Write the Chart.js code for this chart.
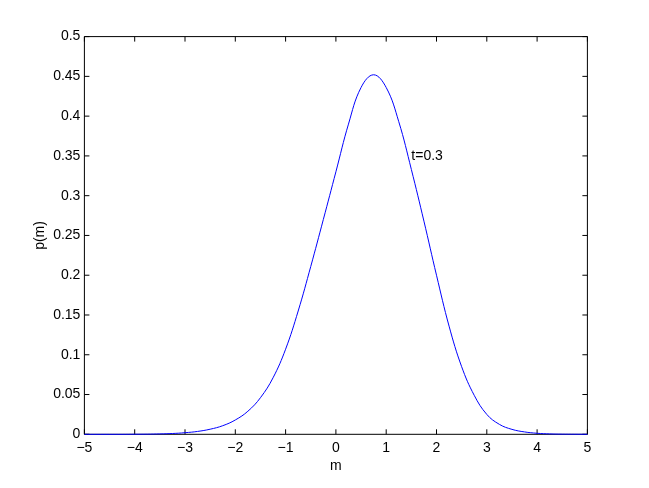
<!DOCTYPE html>
<html>
<head>
<meta charset="utf-8">
<script src="https://cdn.jsdelivr.net/npm/chart.js@4.4.1/dist/chart.umd.min.js"></script>
<style>
   html, body { margin: 0; padding: 0; background: #ffffff; }
   #wrap { width: 649px; height: 488px; }
</style>
</head>
<body>
<div id="wrap"><canvas id="chartCanvas" width="649" height="488"></canvas></div>
<script>
// values
const mValues = [
   -5, -4.75, -4.5, -4.25, -4, -3.75, -3.5, -3.25, -3, -2.75,
   -2.5, -2.25, -2, -1.75, -1.5, -1.25, -1, -0.75, -0.5, -0.25,
   0, 0.25, 0.5, 0.75, 1, 1.25, 1.5, 1.75, 2, 2.25,
   2.5, 2.75, 3, 3.25, 3.5, 3.75, 4, 4.25, 4.5, 4.75, 5
];
const pValues = [
   0, 0, 0, 0, 0.0001, 0.0002, 0.0005, 0.001, 0.002, 0.0036,
   0.0064, 0.0108, 0.018, 0.029, 0.046, 0.071, 0.107, 0.155, 0.211, 0.27,
   0.33, 0.39, 0.436, 0.452, 0.436, 0.393, 0.333, 0.268, 0.2, 0.136,
   0.085, 0.049, 0.025, 0.0125, 0.0062, 0.003, 0.0013, 0.0005, 0.0002, 0.0001, 0
];
const xTickLimits = [-5, 5];
const yTickLimits = [0, 0.5];
const curveLabel = "t=0.3";
const curveLabelAt = [1.5, 0.35];

const fontFamily = "'Liberation Sans', Arial, Helvetica, sans-serif";
const fontSize = 14;

function formatTick(value)
{
   const text = String(Number(value.toFixed(2)));
   return text.replace("-", "\u2212");
}

// box, inward ticks on all four sides, and the text label
const matlabAxes =
{
   id: "matlabAxes",
   beforeDatasetsDraw(chart)
   {
      const ctx = chart.ctx;
      const area = chart.chartArea;
      const xScale = chart.scales.x;
      const yScale = chart.scales.y;
      const len = 5;

      ctx.save();
      ctx.strokeStyle = "#000000";
      ctx.lineWidth = 1;
      ctx.beginPath();
      ctx.rect(area.left, area.top, area.right - area.left, area.bottom - area.top);

      xScale.ticks.forEach(function(tick)
      {
         const px = xScale.getPixelForValue(tick.value);
         ctx.moveTo(px, area.bottom);
         ctx.lineTo(px, area.bottom - len);
         ctx.moveTo(px, area.top);
         ctx.lineTo(px, area.top + len);
      });

      yScale.ticks.forEach(function(tick)
      {
         const py = yScale.getPixelForValue(tick.value);
         ctx.moveTo(area.left, py);
         ctx.lineTo(area.left + len, py);
         ctx.moveTo(area.right, py);
         ctx.lineTo(area.right - len, py);
      });
      ctx.stroke();
      ctx.restore();
   },
   afterDatasetsDraw(chart)
   {
      const ctx = chart.ctx;
      const px = chart.scales.x.getPixelForValue(curveLabelAt[0]);
      const py = chart.scales.y.getPixelForValue(curveLabelAt[1]);

      ctx.save();
      ctx.fillStyle = "#000000";
      ctx.font = fontSize + "px " + fontFamily;
      ctx.textAlign = "left";
      ctx.textBaseline = "middle";
      ctx.fillText(curveLabel, px, py);
      ctx.restore();
   },
};

const points = mValues.map(function(m, i)
{
   return { x: m, y: pValues[i] };
});

Chart.defaults.font.family = fontFamily;
Chart.defaults.font.size = fontSize;
Chart.defaults.color = "#000000";

const ctx = document.getElementById("chartCanvas").getContext("2d");
const chart = new Chart(ctx,
{
   type: "line",
   data:
   {
      datasets: [
      {
         data: points,
         borderColor: "#0000ff",
         borderWidth: 1,
         pointRadius: 0,
         fill: false,
         tension: 0.4,
         clip: 3,
      }],
   },
   options:
   {
      responsive: false,
      animation: false,
      events: [],
      layout:
      {
         padding: { left: 0, right: 61.6, top: 36.6, bottom: 0 },
      },
      plugins:
      {
         legend: { display: false },
         tooltip: { enabled: false },
      },
      scales:
      {
         x:
         {
            type: "linear",
            min: xTickLimits[0],
            max: xTickLimits[1],
            grid: { display: false, drawTicks: false },
            border: { display: false },
            ticks:
            {
               stepSize: 1,
               padding: 5,
               maxRotation: 0,
               callback: formatTick,
            },
            title:
            {
               display: true,
               text: "m",
               padding: { top: 0, bottom: 13 },
            },
            afterFit(scale) { scale.height = 53.7; },
         },
         y:
         {
            type: "linear",
            min: yTickLimits[0],
            max: yTickLimits[1],
            grid: { display: false, drawTicks: false },
            border: { display: false },
            ticks:
            {
               stepSize: 0.05,
               padding: 4,
               callback: formatTick,
            },
            title:
            {
               display: true,
               text: "p(m)",
               padding: { top: 32, bottom: 0 },
            },
            afterFit(scale) { scale.width = 84.4; },
         },
      },
   },
   plugins: [matlabAxes],
});
</script>
</body>
</html>
